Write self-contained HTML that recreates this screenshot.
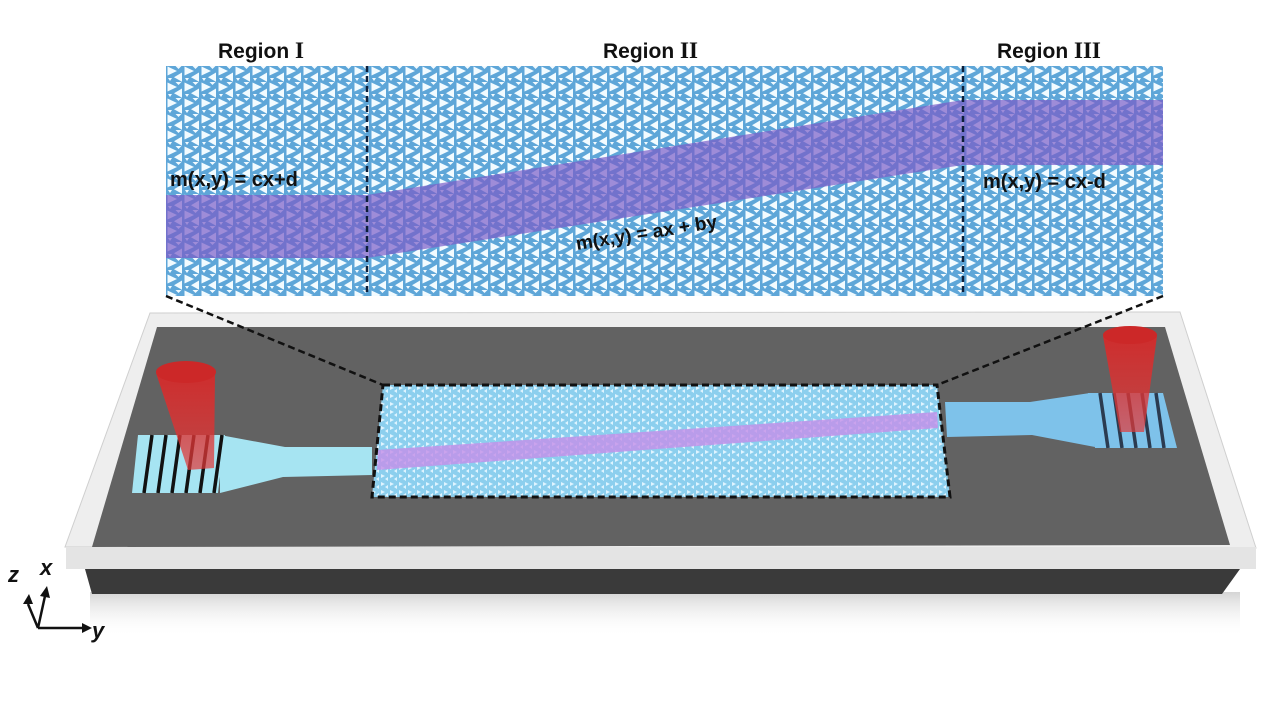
<!DOCTYPE html>
<html><head><meta charset="utf-8"><style>
html,body{margin:0;padding:0;background:#fff;}
svg{display:block;}
text{font-family:"Liberation Sans",Arial,sans-serif;font-weight:bold;}
</style></head><body>
<svg width="1262" height="725" viewBox="0 0 1262 725" xmlns="http://www.w3.org/2000/svg">
<defs>
<pattern id="tri" x="166" y="66" width="17" height="16" patternUnits="userSpaceOnUse">
<rect width="17" height="16" fill="#5ea6d8"/>
<polygon points="1.5,0.5 11,5 1.5,9.5" fill="#f2fbff"/>
<polygon points="16,6.5 8,11.2 16,15.8" fill="#f2fbff"/>
<polygon points="9.5,0 15.5,0 12.5,3" fill="#f2fbff"/>
<polygon points="2,12 6,12 4,15" fill="#f2fbff"/>
</pattern>
<pattern id="tri2" x="380" y="385" width="9" height="8" patternUnits="userSpaceOnUse">
<rect width="9" height="8" fill="#8ccfee"/>
<polygon points="1,1 5,3 1,5" fill="#dff4ff"/>
<polygon points="8,4 5,6 8,8" fill="#dff4ff"/>
</pattern>
<linearGradient id="shadow" x1="0" y1="0" x2="0" y2="1">
<stop offset="0" stop-color="#aaa" stop-opacity="0.5"/>
<stop offset="1" stop-color="#fff" stop-opacity="0"/>
</linearGradient>
<linearGradient id="cone" x1="0" y1="0" x2="0" y2="1">
<stop offset="0" stop-color="#d42a2a" stop-opacity="0.95"/>
<stop offset="1" stop-color="#e23a3a" stop-opacity="0.7"/>
</linearGradient>
</defs>

<rect x="166" y="66" width="997" height="230" fill="url(#tri)"/>
<polygon points="166,195 367,195 963,100 1163,100 1163,165 963,165 367,258 166,258" fill="#7a5cc8" opacity="0.7"/>
<line x1="367" y1="66" x2="367" y2="296" stroke="#0d1f3a" stroke-width="2.5" stroke-dasharray="6,4"/>
<line x1="963" y1="66" x2="963" y2="296" stroke="#0d1f3a" stroke-width="2.5" stroke-dasharray="6,4"/>
<text x="218" y="58" font-size="21" fill="#111">Region <tspan font-family="Liberation Serif" font-size="23">I</tspan></text>
<text x="603" y="58" font-size="21" fill="#111">Region <tspan font-family="Liberation Serif" font-size="23">II</tspan></text>
<text x="997" y="58" font-size="21" fill="#111">Region <tspan font-family="Liberation Serif" font-size="23">III</tspan></text>
<text x="170" y="186" font-size="20" fill="#111">m(x,y) = cx+d</text>
<text x="983" y="188" font-size="20" fill="#111">m(x,y) = cx-d</text>
<text x="577" y="250" font-size="19" fill="#111" transform="rotate(-9 577 250)">m(x,y) = ax + by</text>

<rect x="90" y="592" width="1150" height="45" fill="url(#shadow)"/>
<polygon points="150,313 1180,312 1256,548 65,547" fill="#eeeeee" stroke="#cfcfcf"/>
<rect x="66" y="547" width="1190" height="22" fill="#e4e4e4"/>
<polygon points="85,569 1240,569 1222,594 92,594" fill="#3a3a3a"/>
<polygon points="157,327 1165,327 1230,545 92,547" fill="#626262"/>

<line x1="166" y1="296" x2="383" y2="385" stroke="#111" stroke-width="2.5" stroke-dasharray="7,4"/>
<line x1="1163" y1="296" x2="937" y2="385" stroke="#111" stroke-width="2.5" stroke-dasharray="7,4"/>

<polygon points="220,435 285,447 372,447 372,475 283,477 220,493" fill="#a6e4f2"/>
<polygon points="138,435 225,435 218,493 132,493" fill="#a6e4f2"/>
<g stroke="#111" stroke-width="3.5">
<line x1="152" y1="435" x2="144" y2="493"/><line x1="166" y1="435" x2="158" y2="493"/>
<line x1="180" y1="435" x2="172" y2="493"/><line x1="194" y1="435" x2="186" y2="493"/>
<line x1="208" y1="435" x2="200" y2="493"/><line x1="222" y1="435" x2="214" y2="493"/>
</g>
<polygon points="945,402 1030,402 1090,393 1095,447 1032,435 947,437" fill="#7ec2ea"/>
<polygon points="1088,393 1163,393 1177,448 1095,448" fill="#7ec2ea"/>
<g stroke="#2b3b50" stroke-width="3.5">
<line x1="1100" y1="393" x2="1108" y2="448"/><line x1="1114" y1="393" x2="1122" y2="448"/>
<line x1="1128" y1="393" x2="1136" y2="448"/><line x1="1142" y1="393" x2="1150" y2="448"/>
<line x1="1156" y1="393" x2="1164" y2="448"/>
</g>

<polygon points="383,385 937,385 950,497 372,497" fill="url(#tri2)"/>
<polygon points="378,450 937,412 938,428 377,470" fill="#c48ee8" opacity="0.8"/>
<polygon points="383,385 937,385 950,497 372,497" fill="none" stroke="#111" stroke-width="3" stroke-dasharray="7,4"/>

<path d="M156,373 L188,470 L214,468 L215,372 Z" fill="url(#cone)"/>
<ellipse cx="186" cy="372" rx="30" ry="11" fill="#cc2828"/>
<path d="M1103,336 L1120,432 L1144,432 L1157,336 Z" fill="url(#cone)"/>
<ellipse cx="1130" cy="335" rx="27" ry="9" fill="#cc2828"/>

<g stroke="#111" stroke-width="2.5" fill="none">
<line x1="38" y1="628" x2="82" y2="628"/>
<line x1="38" y1="628" x2="28" y2="604"/>
<line x1="38" y1="628" x2="45" y2="596"/>
</g>
<polygon points="82,623 92,628 82,633" fill="#111"/>
<polygon points="23,604 29,594 33,604" fill="#111"/>
<polygon points="40,596 47,586 50,598" fill="#111"/>
<text x="8" y="582" font-size="22" font-style="italic" fill="#111">z</text>
<text x="40" y="575" font-size="22" font-style="italic" fill="#111">x</text>
<text x="92" y="638" font-size="22" font-style="italic" fill="#111">y</text>
</svg>
</body></html>
